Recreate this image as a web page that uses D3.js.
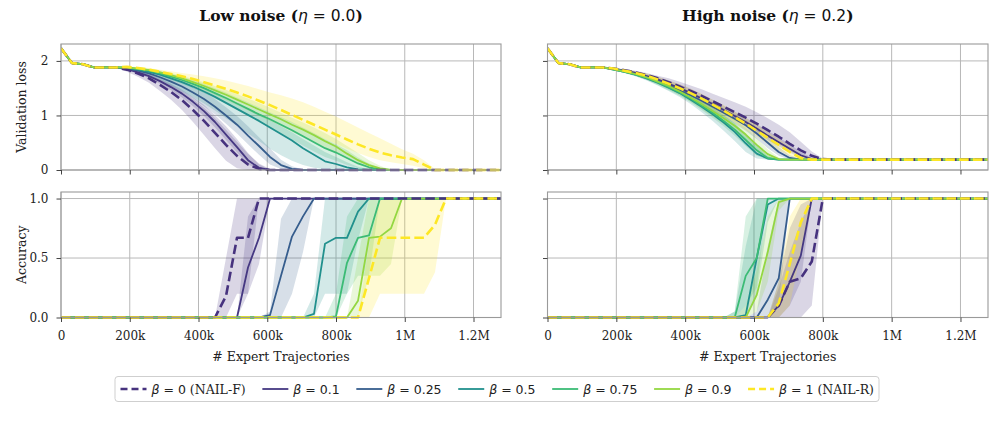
<!DOCTYPE html>
<html><head><meta charset="utf-8">
<script src="https://cdn.jsdelivr.net/npm/d3@7"></script>
<style>body{margin:0;background:#fff}svg{display:block}</style>
</head><body><svg id="c" width="995" height="447"></svg>
<script>
// ---------------- DATA ----------------
const betaLabels = ["0","0.1","0.25","0.5","0.75","0.9","1"];
const betaSuffix = [" (NAIL-F)","","","","",""," (NAIL-R)"];
const betaColors = ["#46327e","#453882","#365d8d","#21908d","#3bbb75","#93d741","#fde725"];
const betaDashed = [true,false,false,false,false,false,true];
const panelTitles = [["Low noise (","η"," = 0.0",")"],["High noise (","η"," = 0.2",")"]];
const xTickValues = [0,200000,400000,600000,800000,1000000,1200000];
const xTickLabels = ["0","200k","400k","600k","800k","1M","1.2M"];
const lossTicks = [0,1,2];
const accTicks = [0,0.5,1];
const accTickLabels = ["0.0","0.5","1.0"];

const trajectories = [0,32000,64000,96000,128000,160000,192000,224000,256000,288000,320000,352000,384000,416000,448000,480000,512000,544000,576000,608000,640000,672000,704000,736000,768000,800000,832000,864000,896000,928000,960000,992000,1024000,1056000,1088000,1120000,1152000,1184000,1216000,1248000,1280000];

// Validation loss, low noise (eta = 0.0)
const lossLowMean = [
 [2.23,1.96,1.94,1.88,1.88,1.88, 1.84,1.77,1.68,1.56,1.43, 1.28,1.10,0.90,0.68,0.46, 0.26,0.10,0.02,0,0, 0,0,0,0,0, 0,0,0,0,0, 0,0,0,0,0, 0,0,0,0,0],
 [2.23,1.96,1.94,1.88,1.88,1.88, 1.85,1.79,1.72,1.63,1.52, 1.40,1.25,1.08,0.88,0.65, 0.42,0.18,0.04,0,0, 0,0,0,0,0, 0,0,0,0,0, 0,0,0,0,0, 0,0,0,0,0],
 [2.23,1.96,1.94,1.88,1.88,1.88, 1.86,1.82,1.77,1.70,1.62, 1.53,1.42,1.30,1.16,1.00, 0.83,0.63,0.44,0.24,0.09, 0.02,0,0,0,0, 0,0,0,0,0, 0,0,0,0,0, 0,0,0,0,0],
 [2.23,1.96,1.94,1.88,1.88,1.88, 1.87,1.84,1.80,1.75,1.68, 1.61,1.53,1.44,1.34,1.23, 1.12,1.01,0.90,0.78,0.66, 0.54,0.40,0.28,0.16,0.11, 0.05,0.01,0,0,0, 0,0,0,0,0, 0,0,0,0,0],
 [2.23,1.96,1.94,1.88,1.88,1.88, 1.88,1.85,1.82,1.77,1.71, 1.65,1.58,1.50,1.41,1.32, 1.22,1.12,1.02,0.93,0.83, 0.73,0.62,0.51,0.40,0.32, 0.22,0.12,0.05,0.01,0, 0,0,0,0,0, 0,0,0,0,0],
 [2.23,1.96,1.94,1.88,1.88,1.88, 1.88,1.86,1.83,1.79,1.74, 1.68,1.61,1.54,1.46,1.38, 1.29,1.20,1.11,1.02,0.93, 0.83,0.74,0.64,0.53,0.43, 0.30,0.18,0.09,0.03,0, 0,0,0,0,0, 0,0,0,0,0],
 [2.23,1.96,1.94,1.88,1.88,1.88, 1.89,1.87,1.84,1.80,1.76, 1.72,1.67,1.61,1.55,1.49, 1.42,1.35,1.27,1.19,1.10, 1.01,0.92,0.83,0.74,0.65, 0.56,0.47,0.39,0.32,0.27, 0.23,0.20,0.10,0,0, 0,0,0,0,0]
];
const lossLowLo = [
 [2.23,1.96,1.94,1.88,1.88,1.88, 1.80,1.71,1.60,1.45,1.29, 1.10,0.88,0.64,0.40,0.17, 0.03,0,0,0,0, 0,0,0,0,0, 0,0,0,0,0, 0,0,0,0,0, 0,0,0,0,0],
 [2.23,1.96,1.94,1.88,1.88,1.88, 1.83,1.76,1.68,1.58,1.46, 1.33,1.17,0.99,0.78,0.55, 0.32,0.10,0.01,0,0, 0,0,0,0,0, 0,0,0,0,0, 0,0,0,0,0, 0,0,0,0,0],
 [2.23,1.96,1.94,1.88,1.88,1.88, 1.84,1.79,1.72,1.64,1.54, 1.43,1.31,1.17,1.02,0.85, 0.67,0.47,0.28,0.10,0.02, 0,0,0,0,0, 0,0,0,0,0, 0,0,0,0,0, 0,0,0,0,0],
 [2.23,1.96,1.94,1.88,1.88,1.88, 1.85,1.80,1.74,1.66,1.55, 1.45,1.34,1.22,1.09,0.95, 0.81,0.67,0.53,0.39,0.27, 0.17,0.09,0.04,0.01,0, 0,0,0,0,0, 0,0,0,0,0, 0,0,0,0,0],
 [2.23,1.96,1.94,1.88,1.88,1.88, 1.86,1.82,1.78,1.72,1.65, 1.58,1.50,1.41,1.31,1.21, 1.10,0.99,0.88,0.78,0.67, 0.56,0.45,0.34,0.24,0.17, 0.09,0.03,0.01,0,0, 0,0,0,0,0, 0,0,0,0,0],
 [2.23,1.96,1.94,1.88,1.88,1.88, 1.87,1.84,1.80,1.75,1.69, 1.62,1.54,1.46,1.37,1.28, 1.19,1.09,0.99,0.90,0.80, 0.70,0.61,0.51,0.41,0.31, 0.20,0.10,0.03,0,0, 0,0,0,0,0, 0,0,0,0,0],
 [2.23,1.96,1.94,1.88,1.88,1.88, 1.88,1.85,1.81,1.76,1.71, 1.66,1.60,1.53,1.46,1.39, 1.31,1.23,1.14,1.05,0.96, 0.86,0.76,0.66,0.57,0.48, 0.39,0.31,0.24,0.18,0.14, 0.11,0.08,0.03,0,0, 0,0,0,0,0]
];
const lossLowHi = [
 [2.23,1.96,1.94,1.88,1.88,1.88, 1.87,1.82,1.75,1.66,1.56, 1.44,1.30,1.14,0.95,0.74, 0.52,0.30,0.12,0.02,0, 0,0,0,0,0, 0,0,0,0,0, 0,0,0,0,0, 0,0,0,0,0],
 [2.23,1.96,1.94,1.88,1.88,1.88, 1.87,1.82,1.76,1.68,1.58, 1.47,1.34,1.19,1.01,0.80, 0.57,0.31,0.10,0.01,0, 0,0,0,0,0, 0,0,0,0,0, 0,0,0,0,0, 0,0,0,0,0],
 [2.23,1.96,1.94,1.88,1.88,1.88, 1.87,1.84,1.81,1.76,1.70, 1.63,1.54,1.43,1.30,1.15, 0.99,0.80,0.60,0.40,0.19, 0.07,0.01,0,0,0, 0,0,0,0,0, 0,0,0,0,0, 0,0,0,0,0],
 [2.23,1.96,1.94,1.88,1.88,1.88, 1.88,1.86,1.83,1.79,1.72, 1.66,1.59,1.51,1.42,1.32, 1.22,1.12,1.02,0.91,0.80, 0.69,0.57,0.45,0.33,0.24, 0.14,0.06,0.02,0,0, 0,0,0,0,0, 0,0,0,0,0],
 [2.23,1.96,1.94,1.88,1.88,1.88, 1.89,1.87,1.85,1.81,1.76, 1.71,1.65,1.58,1.50,1.42, 1.33,1.24,1.15,1.06,0.97, 0.88,0.78,0.68,0.57,0.47, 0.36,0.23,0.12,0.04,0, 0,0,0,0,0, 0,0,0,0,0],
 [2.23,1.96,1.94,1.88,1.88,1.88, 1.89,1.88,1.86,1.83,1.78, 1.73,1.67,1.61,1.54,1.47, 1.39,1.31,1.23,1.14,1.05, 0.96,0.87,0.78,0.68,0.57, 0.44,0.31,0.18,0.08,0, 0,0,0,0,0, 0,0,0,0,0],
 [2.23,1.96,1.94,1.88,1.88,1.88, 1.90,1.89,1.87,1.84,1.81, 1.78,1.75,1.72,1.68,1.64, 1.59,1.54,1.48,1.42,1.37, 1.31,1.24,1.16,1.07,0.98, 0.88,0.78,0.68,0.58,0.48, 0.38,0.30,0.18,0.02,0, 0,0,0,0,0]
];

// Validation loss, high noise (eta = 0.2)
const lossHighMean = [
 [2.23,1.96,1.94,1.88,1.88,1.88, 1.86,1.83,1.79,1.74,1.68, 1.61,1.53,1.45,1.36,1.26, 1.16,1.06,0.96,0.85,0.73, 0.61,0.48,0.36,0.26,0.20, 0.19,0.19,0.19,0.19,0.19, 0.19,0.19,0.19,0.19,0.19, 0.19,0.19,0.19,0.19,0.19],
 [2.23,1.96,1.94,1.88,1.88,1.88, 1.86,1.82,1.78,1.72,1.66, 1.58,1.50,1.41,1.31,1.21, 1.10,0.99,0.88,0.76,0.63, 0.51,0.39,0.27,0.20,0.19, 0.19,0.19,0.19,0.19,0.19, 0.19,0.19,0.19,0.19,0.19, 0.19,0.19,0.19,0.19,0.19],
 [2.23,1.96,1.94,1.88,1.88,1.88, 1.85,1.81,1.76,1.70,1.63, 1.55,1.46,1.37,1.27,1.16, 1.05,0.94,0.82,0.67,0.50, 0.33,0.22,0.19,0.19,0.19, 0.19,0.19,0.19,0.19,0.19, 0.19,0.19,0.19,0.19,0.19, 0.19,0.19,0.19,0.19,0.19],
 [2.23,1.96,1.94,1.88,1.88,1.88, 1.84,1.80,1.75,1.68,1.60, 1.51,1.41,1.29,1.16,1.02, 0.87,0.70,0.49,0.30,0.21, 0.19,0.19,0.19,0.19,0.19, 0.19,0.19,0.19,0.19,0.19, 0.19,0.19,0.19,0.19,0.19, 0.19,0.19,0.19,0.19,0.19],
 [2.23,1.96,1.94,1.88,1.88,1.88, 1.84,1.80,1.75,1.69,1.61, 1.52,1.42,1.31,1.18,1.05, 0.90,0.74,0.55,0.36,0.22, 0.19,0.19,0.19,0.19,0.19, 0.19,0.19,0.19,0.19,0.19, 0.19,0.19,0.19,0.19,0.19, 0.19,0.19,0.19,0.19,0.19],
 [2.23,1.96,1.94,1.88,1.88,1.88, 1.85,1.81,1.76,1.70,1.62, 1.54,1.44,1.33,1.21,1.08, 0.95,0.81,0.65,0.46,0.29, 0.20,0.19,0.19,0.19,0.19, 0.19,0.19,0.19,0.19,0.19, 0.19,0.19,0.19,0.19,0.19, 0.19,0.19,0.19,0.19,0.19],
 [2.23,1.96,1.94,1.88,1.88,1.88, 1.86,1.82,1.78,1.73,1.66, 1.58,1.50,1.41,1.31,1.20, 1.09,0.97,0.85,0.72,0.59, 0.46,0.33,0.22,0.19,0.19, 0.19,0.19,0.19,0.19,0.19, 0.19,0.19,0.19,0.19,0.19, 0.19,0.19,0.19,0.19,0.19]
];
const lossHighLo = [
 [2.23,1.96,1.94,1.88,1.88,1.88, 1.85,1.81,1.76,1.70,1.63, 1.55,1.46,1.37,1.27,1.16, 1.05,0.94,0.83,0.71,0.59, 0.47,0.35,0.25,0.19,0.19, 0.19,0.19,0.19,0.19,0.19, 0.19,0.19,0.19,0.19,0.19, 0.19,0.19,0.19,0.19,0.19],
 [2.23,1.96,1.94,1.88,1.88,1.88, 1.85,1.80,1.75,1.68,1.61, 1.52,1.43,1.34,1.23,1.13, 1.02,0.91,0.80,0.68,0.55, 0.43,0.32,0.22,0.19,0.19, 0.19,0.19,0.19,0.19,0.19, 0.19,0.19,0.19,0.19,0.19, 0.19,0.19,0.19,0.19,0.19],
 [2.23,1.96,1.94,1.88,1.88,1.88, 1.84,1.79,1.73,1.66,1.58, 1.49,1.40,1.30,1.20,1.08, 0.97,0.85,0.72,0.57,0.40, 0.26,0.19,0.19,0.19,0.19, 0.19,0.19,0.19,0.19,0.19, 0.19,0.19,0.19,0.19,0.19, 0.19,0.19,0.19,0.19,0.19],
 [2.23,1.96,1.94,1.88,1.88,1.88, 1.83,1.78,1.72,1.64,1.55, 1.45,1.34,1.21,1.06,0.90, 0.72,0.53,0.33,0.21,0.19, 0.19,0.19,0.19,0.19,0.19, 0.19,0.19,0.19,0.19,0.19, 0.19,0.19,0.19,0.19,0.19, 0.19,0.19,0.19,0.19,0.19],
 [2.23,1.96,1.94,1.88,1.88,1.88, 1.83,1.78,1.72,1.65,1.56, 1.46,1.36,1.24,1.10,0.96, 0.80,0.63,0.44,0.26,0.19, 0.19,0.19,0.19,0.19,0.19, 0.19,0.19,0.19,0.19,0.19, 0.19,0.19,0.19,0.19,0.19, 0.19,0.19,0.19,0.19,0.19],
 [2.23,1.96,1.94,1.88,1.88,1.88, 1.84,1.79,1.73,1.66,1.57, 1.48,1.37,1.25,1.12,0.98, 0.84,0.69,0.53,0.35,0.22, 0.19,0.19,0.19,0.19,0.19, 0.19,0.19,0.19,0.19,0.19, 0.19,0.19,0.19,0.19,0.19, 0.19,0.19,0.19,0.19,0.19],
 [2.23,1.96,1.94,1.88,1.88,1.88, 1.85,1.80,1.75,1.69,1.61, 1.52,1.43,1.33,1.22,1.11, 0.99,0.87,0.74,0.61,0.48, 0.36,0.25,0.19,0.19,0.19, 0.19,0.19,0.19,0.19,0.19, 0.19,0.19,0.19,0.19,0.19, 0.19,0.19,0.19,0.19,0.19]
];
const lossHighHi = [
 [2.23,1.96,1.94,1.88,1.88,1.88, 1.87,1.85,1.82,1.78,1.73, 1.68,1.62,1.55,1.48,1.40, 1.32,1.24,1.16,1.06,0.95, 0.83,0.69,0.52,0.34,0.21, 0.19,0.19,0.19,0.19,0.19, 0.19,0.19,0.19,0.19,0.19, 0.19,0.19,0.19,0.19,0.19],
 [2.23,1.96,1.94,1.88,1.88,1.88, 1.87,1.84,1.81,1.76,1.71, 1.64,1.57,1.49,1.39,1.29, 1.18,1.07,0.96,0.84,0.72, 0.60,0.47,0.33,0.23,0.19, 0.19,0.19,0.19,0.19,0.19, 0.19,0.19,0.19,0.19,0.19, 0.19,0.19,0.19,0.19,0.19],
 [2.23,1.96,1.94,1.88,1.88,1.88, 1.86,1.83,1.79,1.74,1.68, 1.61,1.52,1.44,1.34,1.24, 1.13,1.03,0.92,0.77,0.60, 0.42,0.27,0.20,0.19,0.19, 0.19,0.19,0.19,0.19,0.19, 0.19,0.19,0.19,0.19,0.19, 0.19,0.19,0.19,0.19,0.19],
 [2.23,1.96,1.94,1.88,1.88,1.88, 1.85,1.82,1.78,1.72,1.65, 1.57,1.48,1.37,1.26,1.14, 1.01,0.86,0.67,0.44,0.26, 0.19,0.19,0.19,0.19,0.19, 0.19,0.19,0.19,0.19,0.19, 0.19,0.19,0.19,0.19,0.19, 0.19,0.19,0.19,0.19,0.19],
 [2.23,1.96,1.94,1.88,1.88,1.88, 1.85,1.82,1.78,1.73,1.66, 1.58,1.49,1.38,1.26,1.14, 1.00,0.85,0.66,0.46,0.27, 0.19,0.19,0.19,0.19,0.19, 0.19,0.19,0.19,0.19,0.19, 0.19,0.19,0.19,0.19,0.19, 0.19,0.19,0.19,0.19,0.19],
 [2.23,1.96,1.94,1.88,1.88,1.88, 1.86,1.83,1.79,1.74,1.67, 1.60,1.51,1.41,1.30,1.18, 1.06,0.93,0.77,0.58,0.38, 0.23,0.19,0.19,0.19,0.19, 0.19,0.19,0.19,0.19,0.19, 0.19,0.19,0.19,0.19,0.19, 0.19,0.19,0.19,0.19,0.19],
 [2.23,1.96,1.94,1.88,1.88,1.88, 1.87,1.84,1.81,1.77,1.71, 1.64,1.57,1.49,1.40,1.29, 1.19,1.07,0.96,0.83,0.70, 0.57,0.43,0.28,0.20,0.19, 0.19,0.19,0.19,0.19,0.19, 0.19,0.19,0.19,0.19,0.19, 0.19,0.19,0.19,0.19,0.19]
];

// Accuracy, low noise (eta = 0.0)
const accLowMean = [
 [0,0,0,0,0,0,0,0,0,0, 0,0,0,0,0,0.18,0.67,0.67,1,1, 1,1,1,1,1,1,1,1,1,1, 1,1,1,1,1,1,1,1,1,1, 1],
 [0,0,0,0,0,0,0,0,0,0, 0,0,0,0,0,0,0,0.42,0.67,1, 1,1,1,1,1,1,1,1,1,1, 1,1,1,1,1,1,1,1,1,1, 1],
 [0,0,0,0,0,0,0,0,0,0, 0,0,0,0,0,0,0,0,0,0.02, 0.35,0.68,0.85,1,1,1,1,1,1,1, 1,1,1,1,1,1,1,1,1,1, 1],
 [0,0,0,0,0,0,0,0,0,0, 0,0,0,0,0,0,0,0,0,0, 0,0,0,0.03,0.62,0.67,0.67,0.89,1,1, 1,1,1,1,1,1,1,1,1,1, 1],
 [0,0,0,0,0,0,0,0,0,0, 0,0,0,0,0,0,0,0,0,0, 0,0,0,0,0,0.01,0.46,0.67,0.69,1, 1,1,1,1,1,1,1,1,1,1, 1],
 [0,0,0,0,0,0,0,0,0,0, 0,0,0,0,0,0,0,0,0,0, 0,0,0,0,0,0,0,0.14,0.67,0.68, 0.75,1,1,1,1,1,1,1,1,1, 1],
 [0,0,0,0,0,0,0,0,0,0, 0,0,0,0,0,0,0,0,0,0, 0,0,0,0,0,0,0,0,0.33,0.67, 0.67,0.67,0.67,0.67,0.78,1,1,1,1,1, 1]
];
const accLowLo = [
 [0,0,0,0,0,0,0,0,0,0, 0,0,0,0,0,0,0.2,0.2,1,1, 1,1,1,1,1,1,1,1,1,1, 1,1,1,1,1,1,1,1,1,1, 1],
 [0,0,0,0,0,0,0,0,0,0, 0,0,0,0,0,0,0,0.2,0.45,1, 1,1,1,1,1,1,1,1,1,1, 1,1,1,1,1,1,1,1,1,1, 1],
 [0,0,0,0,0,0,0,0,0,0, 0,0,0,0,0,0,0,0,0,0, 0,0.2,0.55,1,1,1,1,1,1,1, 1,1,1,1,1,1,1,1,1,1, 1],
 [0,0,0,0,0,0,0,0,0,0, 0,0,0,0,0,0,0,0,0,0, 0,0,0,0,0.2,0.2,0.2,0.65,1,1, 1,1,1,1,1,1,1,1,1,1, 1],
 [0,0,0,0,0,0,0,0,0,0, 0,0,0,0,0,0,0,0,0,0, 0,0,0,0,0,0,0.2,0.35,0.35,1, 1,1,1,1,1,1,1,1,1,1, 1],
 [0,0,0,0,0,0,0,0,0,0, 0,0,0,0,0,0,0,0,0,0, 0,0,0,0,0,0,0,0,0.35,0.35, 0.45,1,1,1,1,1,1,1,1,1, 1],
 [0,0,0,0,0,0,0,0,0,0, 0,0,0,0,0,0,0,0,0,0, 0,0,0,0,0,0,0,0,0,0.2, 0.2,0.2,0.2,0.2,0.38,1,1,1,1,1, 1]
];
const accLowHi = [
 [0,0,0,0,0,0,0,0,0,0, 0,0,0,0,0,0.5,1,1,1,1, 1,1,1,1,1,1,1,1,1,1, 1,1,1,1,1,1,1,1,1,1, 1],
 [0,0,0,0,0,0,0,0,0,0, 0,0,0,0,0,0,0,0.85,1,1, 1,1,1,1,1,1,1,1,1,1, 1,1,1,1,1,1,1,1,1,1, 1],
 [0,0,0,0,0,0,0,0,0,0, 0,0,0,0,0,0,0,0,0,0.05, 0.83,1,1,1,1,1,1,1,1,1, 1,1,1,1,1,1,1,1,1,1, 1],
 [0,0,0,0,0,0,0,0,0,0, 0,0,0,0,0,0,0,0,0,0, 0,0,0,0.2,1,1,1,1,1,1, 1,1,1,1,1,1,1,1,1,1, 1],
 [0,0,0,0,0,0,0,0,0,0, 0,0,0,0,0,0,0,0,0,0, 0,0,0,0,0,0.2,0.85,1,1,1, 1,1,1,1,1,1,1,1,1,1, 1],
 [0,0,0,0,0,0,0,0,0,0, 0,0,0,0,0,0,0,0,0,0, 0,0,0,0,0,0,0,0.5,1,1, 1,1,1,1,1,1,1,1,1,1, 1],
 [0,0,0,0,0,0,0,0,0,0, 0,0,0,0,0,0,0,0,0,0, 0,0,0,0,0,0,0,0,0.6,1, 1,1,1,1,1,1,1,1,1,1, 1]
];

// Accuracy, high noise (eta = 0.2)
const accHighMean = [
 [0,0,0,0,0,0,0,0,0,0, 0,0,0,0,0,0,0,0,0,0, 0,0.1,0.3,0.33,0.47,1,1,1,1,1, 1,1,1,1,1,1,1,1,1,1, 1],
 [0,0,0,0,0,0,0,0,0,0, 0,0,0,0,0,0,0,0,0,0, 0,0.1,0.3,0.52,1,1,1,1,1,1, 1,1,1,1,1,1,1,1,1,1, 1],
 [0,0,0,0,0,0,0,0,0,0, 0,0,0,0,0,0,0,0,0,0, 0.15,0.33,1,1,1,1,1,1,1,1, 1,1,1,1,1,1,1,1,1,1, 1],
 [0,0,0,0,0,0,0,0,0,0, 0,0,0,0,0,0,0,0,0.02,0.5, 0.95,1,1,1,1,1,1,1,1,1, 1,1,1,1,1,1,1,1,1,1, 1],
 [0,0,0,0,0,0,0,0,0,0, 0,0,0,0,0,0,0,0,0.35,0.5, 1,1,1,1,1,1,1,1,1,1, 1,1,1,1,1,1,1,1,1,1, 1],
 [0,0,0,0,0,0,0,0,0,0, 0,0,0,0,0,0,0,0,0,0.19, 0.55,0.97,1,1,1,1,1,1,1,1, 1,1,1,1,1,1,1,1,1,1, 1],
 [0,0,0,0,0,0,0,0,0,0, 0,0,0,0,0,0,0,0,0,0, 0,0.12,0.45,0.8,1,1,1,1,1,1, 1,1,1,1,1,1,1,1,1,1, 1]
];
const accHighLo = [
 [0,0,0,0,0,0,0,0,0,0, 0,0,0,0,0,0,0,0,0,0, 0,0,0,0,0.1,1,1,1,1,1, 1,1,1,1,1,1,1,1,1,1, 1],
 [0,0,0,0,0,0,0,0,0,0, 0,0,0,0,0,0,0,0,0,0, 0,0,0.1,0.3,1,1,1,1,1,1, 1,1,1,1,1,1,1,1,1,1, 1],
 [0,0,0,0,0,0,0,0,0,0, 0,0,0,0,0,0,0,0,0,0, 0,0.1,1,1,1,1,1,1,1,1, 1,1,1,1,1,1,1,1,1,1, 1],
 [0,0,0,0,0,0,0,0,0,0, 0,0,0,0,0,0,0,0,0,0.2, 0.8,1,1,1,1,1,1,1,1,1, 1,1,1,1,1,1,1,1,1,1, 1],
 [0,0,0,0,0,0,0,0,0,0, 0,0,0,0,0,0,0,0,0.1,0.25, 1,1,1,1,1,1,1,1,1,1, 1,1,1,1,1,1,1,1,1,1, 1],
 [0,0,0,0,0,0,0,0,0,0, 0,0,0,0,0,0,0,0,0,0.05, 0.3,0.9,1,1,1,1,1,1,1,1, 1,1,1,1,1,1,1,1,1,1, 1],
 [0,0,0,0,0,0,0,0,0,0, 0,0,0,0,0,0,0,0,0,0, 0,0,0.1,0.55,1,1,1,1,1,1, 1,1,1,1,1,1,1,1,1,1, 1]
];
const accHighHi = [
 [0,0,0,0,0,0,0,0,0,0, 0,0,0,0,0,0,0,0,0,0, 0,0.3,0.75,0.95,1,1,1,1,1,1, 1,1,1,1,1,1,1,1,1,1, 1],
 [0,0,0,0,0,0,0,0,0,0, 0,0,0,0,0,0,0,0,0,0, 0,0.25,0.55,0.8,1,1,1,1,1,1, 1,1,1,1,1,1,1,1,1,1, 1],
 [0,0,0,0,0,0,0,0,0,0, 0,0,0,0,0,0,0,0,0,0.05, 0.6,1,1,1,1,1,1,1,1,1, 1,1,1,1,1,1,1,1,1,1, 1],
 [0,0,0,0,0,0,0,0,0,0, 0,0,0,0,0,0,0,0.05,0.6,1, 1,1,1,1,1,1,1,1,1,1, 1,1,1,1,1,1,1,1,1,1, 1],
 [0,0,0,0,0,0,0,0,0,0, 0,0,0,0,0,0,0,0.05,0.85,1, 1,1,1,1,1,1,1,1,1,1, 1,1,1,1,1,1,1,1,1,1, 1],
 [0,0,0,0,0,0,0,0,0,0, 0,0,0,0,0,0,0,0,0.1,0.4, 0.85,1,1,1,1,1,1,1,1,1, 1,1,1,1,1,1,1,1,1,1, 1],
 [0,0,0,0,0,0,0,0,0,0, 0,0,0,0,0,0,0,0,0,0, 0,0.3,0.85,1,1,1,1,1,1,1, 1,1,1,1,1,1,1,1,1,1, 1]
];

// ---------------- DRAW ----------------
const svg = d3.select("#c");
svg.append("rect").attr("width",995).attr("height",447).attr("fill","#fff");
const SERIF = "'DejaVu Serif', serif";
const SANS = "'DejaVu Sans', sans-serif";

const panels = [
  {x0:61,   x1:501,   y0:44,  y1:170,   kind:"loss", mean:lossLowMean,  lo:lossLowLo,  hi:lossLowHi,  yLabels:true,  xLabels:false},
  {x0:547.5,x1:988,   y0:44,  y1:170,   kind:"loss", mean:lossHighMean, lo:lossHighLo, hi:lossHighHi, yLabels:false, xLabels:false},
  {x0:61,   x1:501,   y0:192, y1:317.5, kind:"acc",  mean:accLowMean,   lo:accLowLo,   hi:accLowHi,   yLabels:true,  xLabels:true},
  {x0:547.5,x1:988,   y0:192, y1:317.5, kind:"acc",  mean:accHighMean,  lo:accHighLo,  hi:accHighHi,  yLabels:false, xLabels:true}
];
const drawOrder = [1,2,3,4,5,0,6];

panels.forEach((p,pi) => {
  const x = d3.scaleLinear().domain([0,1280000]).range([p.x0,p.x1]);
  const y = d3.scaleLinear().domain(p.kind==="loss"?[0,2.31]:[0,1.055]).range([p.y1,p.y0]);
  const yt = p.kind==="loss"?lossTicks:accTicks;
  const g = svg.append("g");
  const cid = "clip"+pi;
  svg.append("clipPath").attr("id",cid).append("rect")
     .attr("x",p.x0).attr("y",p.y0-4).attr("width",p.x1-p.x0).attr("height",p.y1-p.y0+8);

  // grid
  g.append("g").selectAll("line").data(xTickValues).join("line")
    .attr("x1",d=>x(d)).attr("x2",d=>x(d)).attr("y1",p.y0).attr("y2",p.y1)
    .attr("stroke","#b8b8b8").attr("stroke-width",1);
  g.append("g").selectAll("line").data(yt).join("line")
    .attr("x1",p.x0).attr("x2",p.x1).attr("y1",d=>y(d)).attr("y2",d=>y(d))
    .attr("stroke","#b8b8b8").attr("stroke-width",1);

  const area = d3.area().x((d,i)=>x(trajectories[i])).y0(d=>y(d[0])).y1(d=>y(d[1]));
  const line = d3.line().x((d,i)=>x(trajectories[i])).y(d=>y(d));
  const plot = g.append("g").attr("clip-path",`url(#${cid})`);
  drawOrder.forEach(k => {
    const band = p.lo[k].map((v,i)=>[v,p.hi[k][i]]);
    plot.append("path").attr("d",area(band)).attr("fill",betaColors[k]).attr("fill-opacity",0.2).attr("stroke","none");
  });
  drawOrder.forEach(k => {
    plot.append("path").attr("d",line(p.mean[k])).attr("fill","none")
      .attr("stroke",betaColors[k])
      .attr("stroke-width",betaDashed[k]?2.6:1.8)
      .attr("stroke-dasharray",betaDashed[k]?"9.6,4.2":null)
      .attr("stroke-linejoin","round");
  });

  // spines
  g.append("rect").attr("x",p.x0).attr("y",p.y0).attr("width",p.x1-p.x0).attr("height",p.y1-p.y0)
    .attr("fill","none").attr("stroke","#9a9a9a").attr("stroke-width",1.1);

  // axes
  const xa = d3.axisBottom(x).tickValues(xTickValues).tickSize(4.5).tickPadding(9.5)
     .tickFormat((d,i)=>p.xLabels?xTickLabels[i]:"");
  const xg = g.append("g").attr("transform",`translate(0,${p.y1})`).call(xa);
  const ya = d3.axisLeft(y).tickValues(yt).tickSize(4.5).tickPadding(8)
     .tickFormat((d,i)=>p.yLabels?(p.kind==="loss"?String(d):accTickLabels[i]):"");
  const yg = g.append("g").attr("transform",`translate(${p.x0},0)`).call(ya);
  [xg,yg].forEach(a=>{
    a.select(".domain").remove();
    a.selectAll(".tick line").attr("stroke","#444").attr("stroke-width",1);
    a.selectAll(".tick text").attr("fill","#222").style("font-family",SERIF).style("font-size","12px");
  });

  if (p.xLabels) {
    g.append("text").attr("x",(p.x0+p.x1)/2).attr("y",361).attr("text-anchor","middle")
      .style("font-family",SERIF).style("font-size","12.5px").attr("fill","#222").text("# Expert Trajectories");
  }
  if (p.yLabels) {
    g.append("text").attr("transform",`translate(26,${(p.y0+p.y1)/2}) rotate(-90)`).attr("text-anchor","middle")
      .style("font-family",SERIF).style("font-size","12.5px").attr("fill","#222")
      .text(p.kind==="loss"?"Validation loss":"Accuracy");
  }
  if (pi<2) {
    const t = svg.append("text").attr("x",(p.x0+p.x1)/2).attr("y",20.5).attr("text-anchor","middle")
      .style("font-size","15.5px").attr("fill","#111");
    const parts = panelTitles[pi];
    t.append("tspan").style("font-family",SERIF).style("font-weight","bold").text(parts[0]);
    t.append("tspan").style("font-family",SANS).style("font-style","italic").text(parts[1]);
    t.append("tspan").style("font-family",SANS).text(parts[2]);
    t.append("tspan").style("font-family",SERIF).style("font-weight","bold").text(parts[3]);
  }
});

// legend
const leg = svg.append("g");
const legY = 389;
const box = leg.append("rect").attr("y",376.5).attr("height",25).attr("rx",3)
  .attr("fill","#fff").attr("stroke","#cfcfcf").attr("stroke-width",1);
const items = [];
betaLabels.forEach((b,k) => {
  const h = leg.append("line").attr("y1",legY).attr("y2",legY)
    .attr("stroke",betaColors[k]).attr("stroke-width",betaDashed[k]?2.6:1.8)
    .attr("stroke-dasharray",betaDashed[k]?"7,4":null);
  const t = leg.append("text").attr("y",legY+4.5).style("font-size","12.5px").attr("fill","#222");
  t.append("tspan").style("font-family",SANS).style("font-style","italic").text("β");
  t.append("tspan").style("font-family",SANS).text(" = "+b);
  if (betaSuffix[k]) t.append("tspan").style("font-family",SERIF).text(betaSuffix[k]);
  items.push({h,t,w:t.node().getComputedTextLength()});
});
const handleLen = 26, handleGap = 5, padL = 5.5, padR = 5;
const boxL = 115, boxR = 879;
const textTotal = d3.sum(items,d=>d.w);
const spacing = (boxR-boxL-padL-padR - items.length*(handleLen+handleGap) - textTotal)/(items.length-1);
let cx = boxL+padL;
items.forEach(it => {
  it.h.attr("x1",cx).attr("x2",cx+handleLen);
  it.t.attr("x",cx+handleLen+handleGap);
  cx += handleLen+handleGap+it.w+spacing;
});
box.attr("x",boxL).attr("width",boxR-boxL);
</script></body></html>
